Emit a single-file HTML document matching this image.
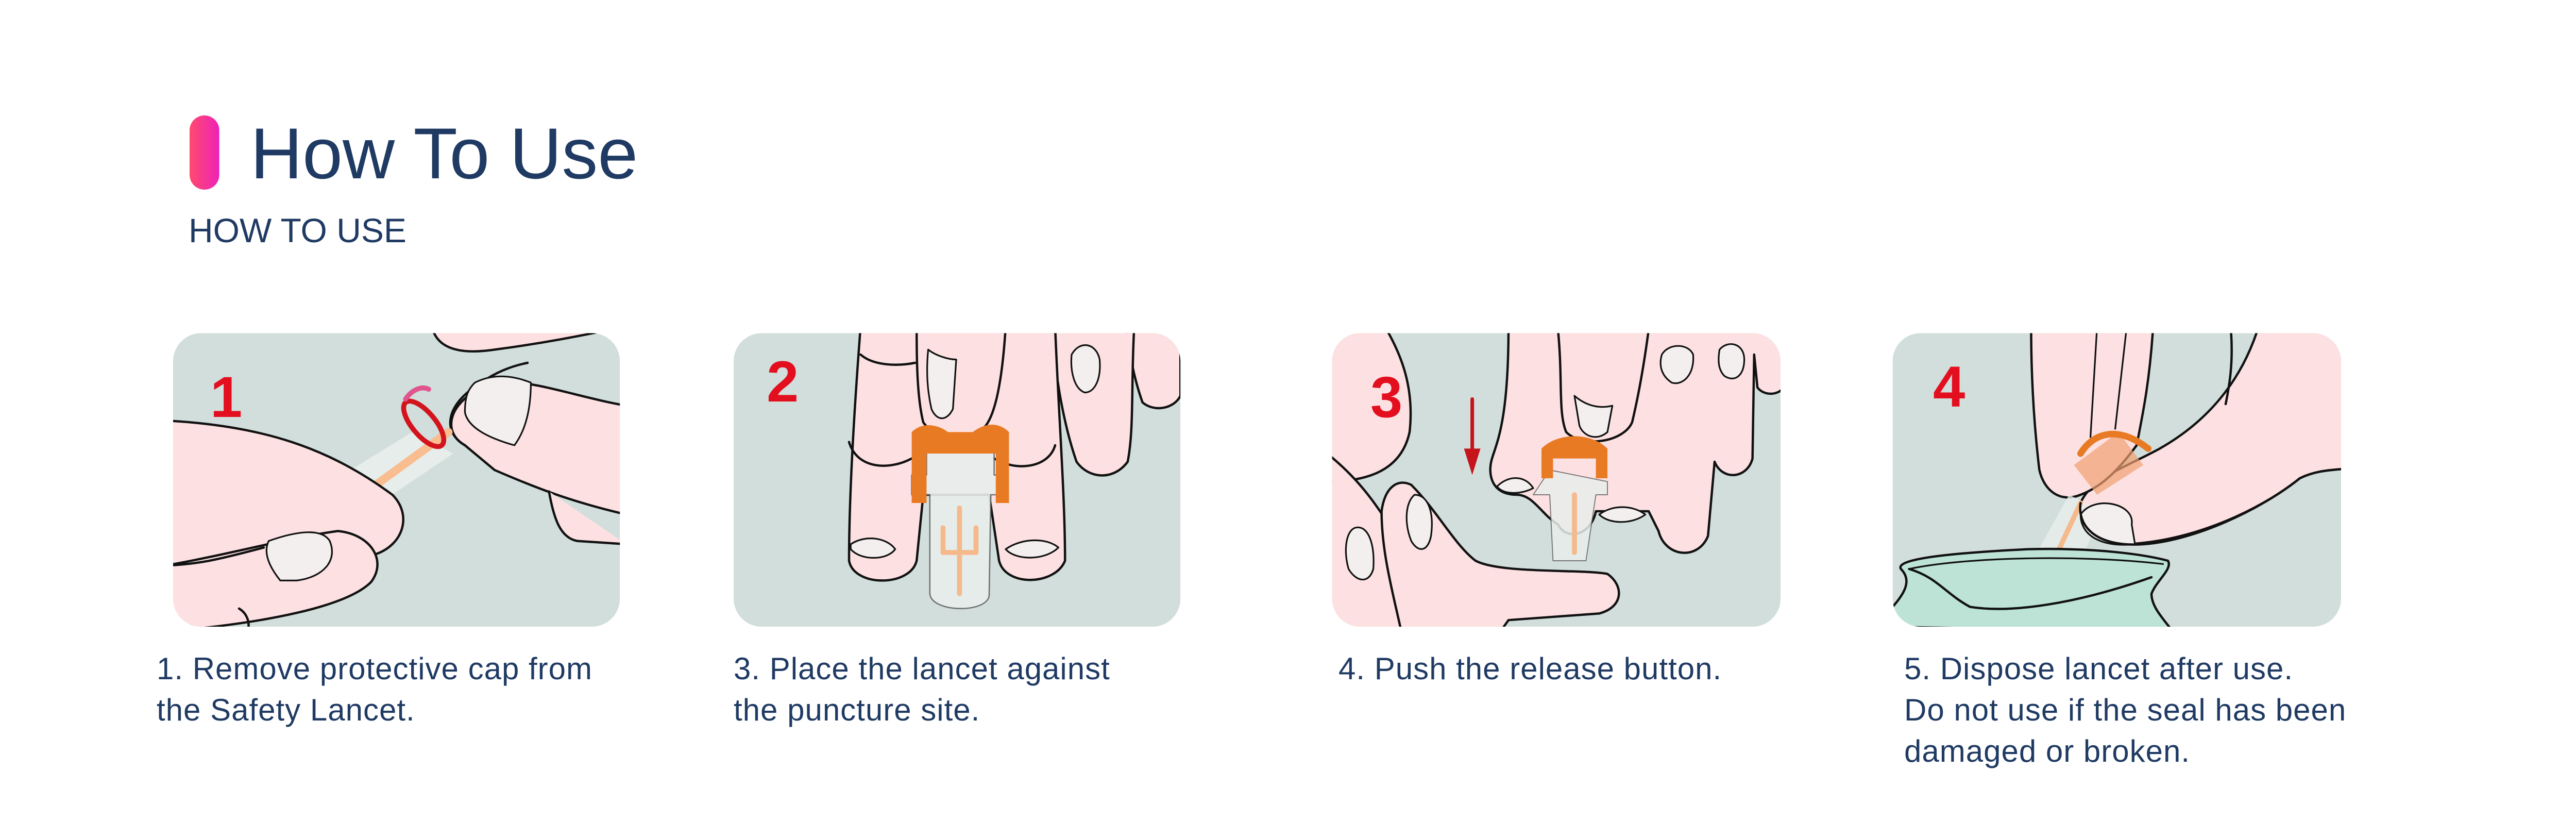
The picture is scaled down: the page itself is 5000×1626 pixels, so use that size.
<!DOCTYPE html>
<html><head><meta charset="utf-8">
<style>
html,body{margin:0;padding:0;background:#fff;}
body{width:5000px;height:1626px;position:relative;overflow:hidden;font-family:"Liberation Sans",sans-serif;color:#1f3a63;}
.t{position:absolute;white-space:nowrap;line-height:1;}
.cap{position:absolute;font-size:60px;line-height:80px;white-space:nowrap;color:#1f3a63;letter-spacing:1px;}
svg{position:absolute;left:0;top:0;}
</style></head><body>
<svg width="5000" height="1626" viewBox="0 0 1562.5 508.125" xmlns="http://www.w3.org/2000/svg">
<defs>
<linearGradient id="pg" x1="0" x2="1"><stop offset="0" stop-color="#ff4a6e"/><stop offset="1" stop-color="#ee22b8"/></linearGradient>
<clipPath id="c1"><rect x="105" y="202" width="271" height="178" rx="17"/></clipPath>
<clipPath id="c2"><rect x="445" y="202" width="271" height="178" rx="17"/></clipPath>
<clipPath id="c3"><rect x="808" y="202" width="272" height="178" rx="17"/></clipPath>
<clipPath id="c4"><rect x="1148" y="202" width="272" height="178" rx="17"/></clipPath>
</defs>
<rect x="115" y="70" width="18" height="45" rx="9" fill="url(#pg)"/>
<g stroke="#111" stroke-width="1.4" stroke-linejoin="round" stroke-linecap="round">
<!-- panel 1 -->
<g clip-path="url(#c1)">
<rect x="105" y="202" width="271" height="178" fill="#d1dedb" stroke="none"/>
<path d="M262,198 C265,212 280,215 300,212 C330,208 350,204 380,198 Z" fill="#fde0e2"/>
<path d="M380,246 C345,240 310,225 292,235 C272,245 268,262 282,270 L300,285 C330,298 350,305 380,312 Z" fill="#fde0e2"/>
<path d="M282,270 C268,262 270,245 292,232 C300,226 310,222 320,220" fill="none"/>
<path d="M333,298 C336,315 340,326 350,328 L380,330" fill="#fde0e2"/>
<path d="M288,232 C300,226 312,228 322,232 C322,250 318,262 312,270 C298,266 284,260 282,250 C282,240 284,236 288,232Z" fill="#f3efee" stroke-width="1"/>
<path d="M180,305 L250,262 L275,275 L205,322 Z" fill="#e8eeec" stroke="none" opacity="0.9"/>
<path d="M195,318 L272,262" stroke="#f9bd8f" stroke-width="5" fill="none"/>
<path d="M175,330 L190,318 L198,324 L183,336Z" fill="#f08030" stroke="none"/>
<path d="M190,355 L205,343 L210,350 L197,360Z" fill="#f08030" stroke="none"/>
<ellipse cx="257" cy="257" rx="7" ry="17" transform="rotate(-40 257 257)" fill="none" stroke="#d4141c" stroke-width="3"/>
<path d="M246,242 C250,236 256,234 260,236" stroke="#e0558e" stroke-width="3" fill="none"/>
<path d="M100,255 C160,258 200,272 238,300 C250,312 245,330 228,336 C200,350 160,368 100,383 Z" fill="#fde0e2"/>
<path d="M100,343 C140,336 175,326 205,322 C225,324 235,340 225,353 C210,368 160,378 100,383 Z" fill="#fde0e2"/>
<path d="M100,343 C120,342 130,340 160,332" fill="none" stroke="#111"/>
<path d="M163,328 C180,322 195,320 200,328 C205,340 196,350 180,352 L170,352 C162,342 160,334 163,328Z" fill="#f3efee" stroke-width="1"/>
<path d="M145,369 C150,372 152,378 150,383" fill="none"/>
</g>
<!-- panel 2 -->
<g clip-path="url(#c2)">
<rect x="445" y="202" width="271" height="178" fill="#d1dedb" stroke="none"/>
<path d="M683,198 L716,198 L716,240 C712,248 700,250 693,244 C688,230 685,215 683,198Z" fill="#fde0e2"/>
<path d="M638,198 L688,198 C686,230 688,260 684,280 C675,292 660,290 653,280 C646,260 640,230 638,198Z" fill="#fde0e2"/>
<path d="M650,215 C655,206 665,208 667,218 C668,230 664,238 658,238 C652,236 649,226 650,215Z" fill="#f3efee" stroke-width="1"/>
<path d="M522,198 L640,198 C642,250 646,300 646,340 C640,355 610,356 606,340 L600,300 L560,300 L556,340 C552,356 518,356 515,340 C515,300 518,250 522,198Z" fill="#fde0e2"/>
<path d="M516,330 C525,324 538,326 543,333 C538,340 522,340 516,333Z" fill="#f3efee" stroke-width="1"/>
<path d="M610,333 C620,326 635,326 642,332 C634,340 616,340 610,333Z" fill="#f3efee" stroke-width="1"/>
<path d="M515,268 C520,285 540,285 553,278 M603,278 C616,286 636,284 640,270" fill="none"/>
<path d="M522,215 C530,222 545,222 555,220" fill="none"/>
<path d="M556,198 L610,198 C608,230 604,250 598,258 C590,268 568,268 560,256 C556,240 556,215 556,198Z" fill="#fde0e2"/>
<path d="M563,212 C568,216 576,218 580,218 L578,248 C574,256 568,255 565,248 C562,235 562,222 563,212Z" fill="#f3efee" stroke-width="1"/>
<path d="M553,300 L564,300 L564,360 C565,372 601,372 600,360 L601,300 L611,300 L611,288 L603,288 L603,270 L562,270 L562,288 L553,288Z" fill="#e8eeec" stroke="#666" stroke-width="0.8" opacity="0.9"/>
<path d="M553,262 C560,255 570,258 575,262 L590,262 C598,256 606,256 612,262 L612,305 L604,305 L604,275 L562,275 L562,305 L553,305Z" fill="#e87a24" stroke="none"/>
<path d="M582,308 L582,360 M572,320 L572,335 L592,335 L592,320" stroke="#f5b98b" stroke-width="3" fill="none"/>
</g>
<!-- panel 3 -->
<g clip-path="url(#c3)">
<rect x="808" y="202" width="272" height="178" fill="#d1dedb" stroke="none"/>
<path d="M805,198 L840,198 C850,215 858,235 855,262 C850,285 830,292 805,292Z" fill="#fde0e2"/>
<path d="M915,198 L1082,198 L1082,235 C1078,240 1070,240 1066,235 L1064,215 L1063,278 C1060,290 1045,292 1040,280 L1036,325 C1030,340 1010,338 1006,322 L1000,310 L968,310 C965,325 950,328 945,318 C935,312 930,300 920,300 C905,300 902,288 905,278 C908,268 915,255 915,198Z" fill="#fde0e2"/>
<path d="M1043,212 C1048,206 1058,208 1058,218 C1058,228 1052,232 1046,228 C1042,224 1042,218 1043,212Z" fill="#f3efee" stroke-width="1"/>
<path d="M1008,215 C1012,208 1024,208 1027,215 C1028,228 1020,234 1014,232 C1008,228 1006,222 1008,215Z" fill="#f3efee" stroke-width="1"/>
<path d="M970,312 C978,306 990,306 998,312 C990,318 976,318 970,312Z M908,295 C915,288 925,288 930,296 C922,300 912,300 908,295Z" fill="#f3efee" stroke-width="1"/>
<path d="M945,200 C948,230 945,250 950,262 C960,272 985,268 990,256 C995,235 998,215 1000,200Z" fill="#fde0e2"/>
<path d="M955,240 C962,246 970,248 978,246 L975,262 C968,268 960,264 958,258Z" fill="#f3efee" stroke-width="1"/>
<path d="M930,300 L940,300 L942,340 L962,340 L968,300 L975,300 L975,292 L940,285Z" fill="#e8eeec" stroke="#666" stroke-width="0.6" opacity="0.85"/>
<path d="M935,272 C945,262 965,262 975,272 L975,290 L968,290 L968,278 L942,278 L942,290 L935,290Z" fill="#e87a24" stroke="none"/>
<path d="M955,300 L955,335" stroke="#f5b98b" stroke-width="3"/>
<path d="M805,275 C830,295 840,315 850,330 C855,345 860,360 862,383 L805,383Z" fill="#fde0e2"/>
<path d="M838,310 C840,295 848,290 856,294 C872,310 882,330 895,340 C910,348 960,345 975,348 C985,355 985,368 970,372 L915,376 L910,383 L850,383 C845,360 838,335 838,310Z" fill="#fde0e2"/>
<path d="M858,300 C866,300 870,310 868,325 C866,335 860,335 856,328 C852,318 852,305 858,300Z M822,320 C830,318 834,330 833,345 C830,355 822,352 818,345 C815,335 816,322 822,320Z" fill="#f3efee" stroke-width="1"/>
<path d="M893,242 L893,275" stroke="#c5141c" stroke-width="2.2"/>
<path d="M888,272 L898,272 L893,288Z" fill="#c5141c" stroke="none"/>
</g>
<!-- panel 4 -->
<g clip-path="url(#c4)">
<rect x="1148" y="202" width="272" height="178" fill="#d1dedb" stroke="none"/>
<path d="M1370,198 C1360,230 1340,255 1310,272 C1290,283 1268,290 1262,305 C1260,318 1270,330 1290,330 C1330,328 1370,310 1395,290 C1405,285 1415,285 1425,284 L1425,198Z" fill="#fde0e2"/>
<path d="M1232,198 L1306,198 C1304,230 1300,250 1296,270 C1285,285 1275,295 1262,300 C1250,305 1240,298 1237,285 C1234,260 1232,230 1232,198Z" fill="#fde0e2"/>
<path d="M1272,198 L1268,265 M1290,198 L1283,260" fill="none" stroke-width="1"/>
<path d="M1353,198 C1355,220 1352,235 1350,245" fill="none"/>
<path d="M1258,282 L1285,262 L1300,282 L1272,300Z" fill="#f0a070" stroke="none" opacity="0.7"/>
<path d="M1262,275 C1270,262 1285,258 1303,272" stroke="#e87a24" stroke-width="4" fill="none"/>
<path d="M1255,300 L1230,345 L1258,350 L1275,310Z" fill="#e8eeec" stroke="none" opacity="0.8"/>
<path d="M1248,335 L1262,305" stroke="#f5b98b" stroke-width="3"/>
<path d="M1293,318 C1295,305 1270,300 1262,312 C1262,325 1275,332 1295,330Z" fill="#f3efee" stroke-width="1"/>
<path d="M1262,305 C1260,318 1270,332 1300,330 C1330,328 1370,310 1395,290 C1405,285 1415,285 1425,284" fill="none"/>
<path d="M1145,380 L1148,368 C1155,360 1160,352 1153,345 C1150,340 1170,336 1230,333 C1270,332 1300,336 1315,340 C1318,345 1308,352 1305,360 C1305,368 1312,375 1318,383Z" fill="#bde3d6"/>
<path d="M1158,345 C1175,350 1180,360 1195,368 C1220,372 1260,366 1305,350" fill="none"/>
<path d="M1158,345 C1190,338 1260,336 1312,342" fill="none" stroke-width="1"/>
</g>
</g>
</svg>
<div class="t" style="left:486px;top:228px;font-size:140px;color:#1f3a63;">How To Use</div>
<div class="t" style="left:366px;top:414px;font-size:66px;color:#1f3a63;">HOW TO USE</div>
<div class="t" style="left:408px;top:715px;font-size:112px;font-weight:bold;color:#e30f1f;">1</div>
<div class="t" style="left:1488px;top:685px;font-size:112px;font-weight:bold;color:#e30f1f;">2</div>
<div class="t" style="left:2660px;top:715px;font-size:112px;font-weight:bold;color:#e30f1f;">3</div>
<div class="t" style="left:3752px;top:695px;font-size:112px;font-weight:bold;color:#e30f1f;">4</div>
<div class="cap" style="left:304px;top:1258px;">1. Remove protective cap from<br>the Safety Lancet.</div>
<div class="cap" style="left:1424px;top:1258px;">3. Place the lancet against<br>the puncture site.</div>
<div class="cap" style="left:2598px;top:1258px;">4. Push the release button.</div>
<div class="cap" style="left:3696px;top:1258px;">5. Dispose lancet after use.<br>Do not use if the seal has been<br>damaged or broken.</div>
</body></html>
